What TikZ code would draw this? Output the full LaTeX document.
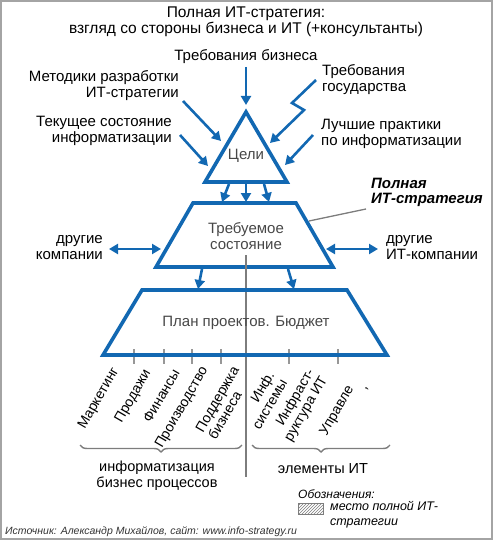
\documentclass[tikz,border=0pt]{standalone}
\usepackage{fontspec}
\setmainfont{Liberation Sans}
\usetikzlibrary{arrows.meta,decorations.pathreplacing,patterns}
\definecolor{sblue}{RGB}{18,104,178}
\definecolor{sgrey}{RGB}{125,125,125}
\begin{document}
\begin{tikzpicture}[x=1pt,y=-1pt,
  shp/.style={draw=sblue, line width=3.6pt, line join=miter},
  arr/.style={draw=sblue, line width=2.6pt, -{Triangle[length=9pt,width=10pt]}},
  darr/.style={draw=sblue, line width=2.6pt, {Triangle[length=9pt,width=10pt]}-{Triangle[length=9pt,width=10pt]}},
  lbl/.style={font=\fontsize{15}{16}\selectfont, inner sep=0pt},
  rot/.style={font=\fontsize{14}{15}\selectfont, inner sep=0pt, rotate=60, anchor=east, align=right},
  gl/.style={draw=sgrey, line width=1.3pt},
  tick/.style={draw=sgrey!80, line width=1.3pt},
  brc/.style={draw=sgrey, line width=1.4pt, decorate, decoration={brace, mirror, amplitude=7pt}},
  small/.style={font=\fontsize{12.5}{15}\selectfont\itshape, inner sep=0pt}]
\useasboundingbox (0,0) rectangle (493,540);
\draw[draw=sgrey!70, line width=2pt] (1,1) rectangle (492,539);

% title
\node[lbl, align=center, font=\fontsize{15.5}{16}\selectfont] (title) at (246,22) {Полная ИТ-стратегия:\\взгляд со стороны бизнеса и ИТ (+консультанты)};

% goals triangle
\coordinate (tA) at (246,112);
\coordinate (tR) at (287,182);
\coordinate (tL) at (205,182);
\draw[shp] (tA) -- (tR) -- (tL) -- cycle;
\node[lbl, text=black!72] (goals) at (246,156) {Цели};

% inputs
\node[lbl] (reqbiz) at (246,57) {Требования бизнеса};
\node[lbl, align=right, anchor=east] (meth) at (179,86) {Методики разработки\\ИТ-стратегии};
\node[lbl, align=right, anchor=east] (cur) at (172,131) {Текущее состояние\\информатизации};
\node[lbl, align=left, anchor=west] (gov) at (322,80) {Требования\\государства};
\node[lbl, align=left, anchor=west] (best) at (321,134) {Лучшие практики\\по информатизации};

\coordinate (a1s) at (246,67);  \coordinate (a1e) at (246,105);
\coordinate (a2s) at (183,101); \coordinate (a2e) at (221,141);
\coordinate (a3s) at (180,135); \coordinate (a3e) at (208,166);
\coordinate (a4s) at (316,80);  \coordinate (a4k1) at (292,103); \coordinate (a4k2) at (304,110); \coordinate (a4e) at (270,143);
\coordinate (a5s) at (313,135); \coordinate (a5e) at (285,165);
\draw[arr] (a1s) -- (a1e);
\draw[arr] (a2s) -- (a2e);
\draw[arr] (a3s) -- (a3e);
\draw[arr, line join=miter] (a4s) -- (a4k1) -- (a4k2) -- (a4e);
\draw[arr] (a5s) -- (a5e);

% required state trapezoid
\coordinate (r1) at (193,203); \coordinate (r2) at (296,203);
\coordinate (r3) at (333,267); \coordinate (r4) at (156,267);
\draw[shp] (r1) -- (r2) -- (r3) -- (r4) -- cycle;
\node[lbl, align=center, text=black!72] (req) at (246,236) {Требуемое\\состояние};

\coordinate (b1s) at (229,184); \coordinate (b1e) at (222,202);
\coordinate (b2s) at (246,184); \coordinate (b2e) at (246,202);
\coordinate (b3s) at (264,184); \coordinate (b3e) at (269,202);
\draw[arr] (b1s) -- (b1e);
\draw[arr] (b2s) -- (b2e);
\draw[arr] (b3s) -- (b3e);

% full strategy label
\node[lbl, align=left, anchor=west, font=\fontsize{15}{15.5}\selectfont\bfseries\itshape] (full) at (371,192.5) {Полная\\ИТ-стратегия};
\coordinate (fl1) at (309,221); \coordinate (fl2) at (366,209);
\draw[gl] (fl1) -- (fl2);

% other companies
\node[lbl, align=right, anchor=east] (oth) at (103,248) {другие\\компании};
\node[lbl, align=left, anchor=west] (othit) at (386,248) {другие\\ИТ-компании};
\coordinate (d1s) at (109,249); \coordinate (d1e) at (161,249);
\coordinate (d2s) at (326,249); \coordinate (d2e) at (378,249);
\draw[darr] (d1s) -- (d1e);
\draw[darr] (d2s) -- (d2e);

% vertical divider
\coordinate (v1) at (246,255); \coordinate (v2) at (246,477);
\draw[gl] (v1) -- (v2);

% plan trapezoid
\coordinate (p1) at (142,290); \coordinate (p2) at (347,290);
\coordinate (p3) at (387,355); \coordinate (p4) at (103,355);
\coordinate (c1s) at (202,269); \coordinate (c1e) at (198,289);
\coordinate (c2s) at (288,269); \coordinate (c2e) at (294,289);
\draw[arr] (c1s) -- (c1e);
\draw[arr] (c2s) -- (c2e);
\foreach \x/\n in {134/t1,164/t2,192/t3,221/t4,289/t5,338/t6}
  \draw[tick] (\x,349) coordinate (\n a) -- (\x,364) coordinate (\n b);
\draw[shp] (p1) -- (p2) -- (p3) -- (p4) -- cycle;
\node[lbl, text=black!72] (plan) at (246,323) {План проектов. Бюджет};

% rotated labels
\node[rot] (l1) at (116,369) {Маркетинг};
\node[rot] (l2) at (148,371) {Продажи};
\node[rot] (l3) at (176,370) {Финансы};
\node[rot] (l4) at (205,368) {Производство};
\node[rot, align=left] (l5) at (242,371) {Поддержка\\бизнеса};
\node[rot] (l6) at (277,376) {Инф.\\системы};
\node[rot] (l7) at (318,374) {Инфраст-\\руктура ИТ};
\node[rot] (l8) at (351,387) {Управле};
\node[rot] (l9) at (368,387) {,};

% braces
\coordinate (br1) at (80,445); \coordinate (br2) at (242,445);
\coordinate (br3) at (252,445); \coordinate (br4) at (390,445);
\draw[brc] (br1) -- (br2);
\draw[brc] (br3) -- (br4);
\node[lbl, align=center, font=\fontsize{14.5}{15.5}\selectfont] (bizproc) at (157,475.5) {информатизация\\бизнес процессов};
\node[lbl, font=\fontsize{14.5}{15.5}\selectfont] (itel) at (323,469) {элементы ИТ};

% legend
\node[small, anchor=west, font=\fontsize{12}{15}\selectfont\itshape] (legt) at (298,494) {Обозначения:};
\coordinate (h1) at (298,503); \coordinate (h2) at (323,514);
\draw[draw=sgrey, line width=0.8pt, pattern=north east lines, pattern color=sgrey] (h1) rectangle (h2);
\node[small, anchor=west, align=left] (legd) at (330,514.5) {место полной ИТ-\\стратегии};

% source
\node[small, anchor=west, font=\fontsize{10.5}{12}\selectfont\itshape, text=black!80] (src) at (5,532) {Источник: Александр Михайлов, сайт: www.info-strategy.ru};
\end{tikzpicture}
\end{document}
